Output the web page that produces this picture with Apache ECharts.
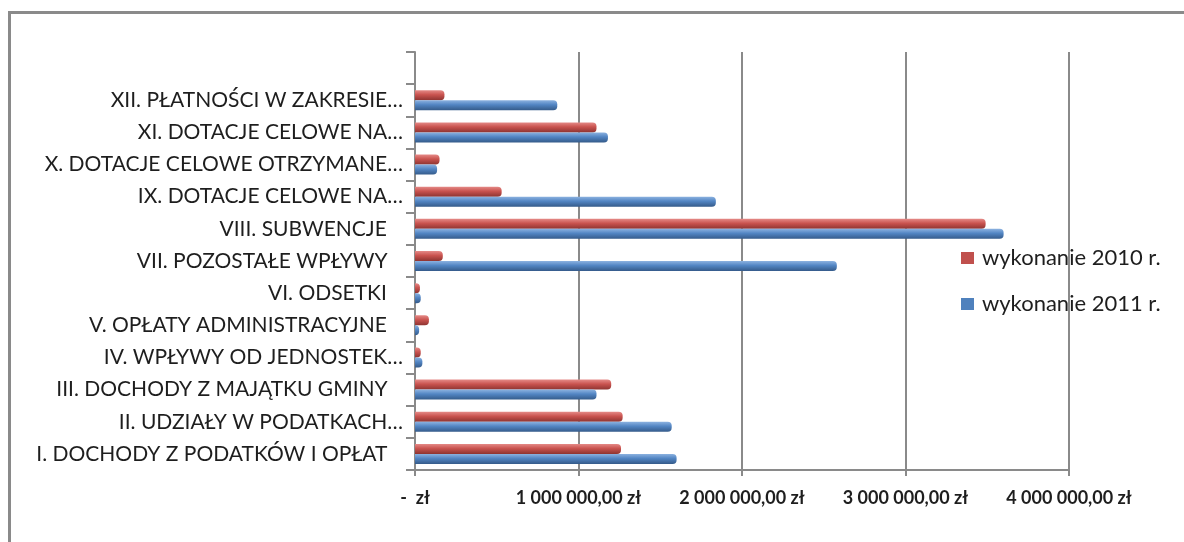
<!DOCTYPE html>
<html>
<head>
<meta charset="utf-8">
<script src="https://cdn.jsdelivr.net/npm/echarts@6/dist/echarts.min.js"></script>
<style>
html,body{margin:0;padding:0;background:#fff;}
#c{width:1184px;height:542px;}
</style>
</head>
<body>
<div id="c"></div>
<script>
// Categories bottom -> top (last one empty slot, as in the original)
var categories = [
  'I. DOCHODY Z PODATKÓW I OPŁAT\u00a0\u00a0\u00a0',
  'II. UDZIAŁY W PODATKACH…',
  'III. DOCHODY Z MAJĄTKU GMINY\u00a0\u00a0\u00a0',
  'IV. WPŁYWY OD JEDNOSTEK…',
  'V. OPŁATY ADMINISTRACYJNE\u00a0\u00a0\u00a0',
  'VI. ODSETKI\u00a0\u00a0\u00a0',
  'VII. POZOSTAŁE WPŁYWY\u00a0\u00a0\u00a0',
  'VIII. SUBWENCJE\u00a0\u00a0\u00a0',
  'IX. DOTACJE CELOWE NA…',
  'X. DOTACJE CELOWE OTRZYMANE…',
  'XI. DOTACJE CELOWE NA…',
  'XII. PŁATNOŚCI W ZAKRESIE…',
  ''
];
var seriesNames = ['wykonanie 2010 r.', 'wykonanie 2011 r.'];
var values2010 = [1260000, 1270000, 1200000, 35000, 85000, 30000, 170000, 3490000, 530000, 150000, 1110000, 180000, null];
var values2011 = [1600000, 1570000, 1110000, 45000, 25000, 35000, 2580000, 3600000, 1840000, 135000, 1180000, 870000, null];
var axisTicks = [0, 1000000, 2000000, 3000000, 4000000];

function fmt(v) {
  if (v === 0) return '-\u00a0\u00a0zł';
  var s = String(Math.round(v));
  var out = '';
  while (s.length > 3) { out = '\u00a0' + s.slice(-3) + out; s = s.slice(0, -3); }
  return s + out + ',00 zł';
}

function grad(top, mid, bot) {
  return new echarts.graphic.LinearGradient(0, 0, 0, 1, [
    {offset: 0, color: top}, {offset: 0.45, color: mid}, {offset: 1, color: bot}
  ]);
}

var chart = echarts.init(document.getElementById('c'), null, {renderer: 'canvas'});
var gray = '#8a8a8a';
chart.setOption({
  animation: false,
  backgroundColor: '#fff',
  graphic: [{
    type: 'rect', left: 7, top: 10, shape: {width: 1300, height: 700},
    style: {fill: 'none', stroke: gray, lineWidth: 3}, silent: true
  }],
  legend: {
    orient: 'vertical', left: 956, top: 242,
    itemWidth: 13, itemHeight: 12, itemGap: 24,
    icon: 'rect',
    data: [
      {name: seriesNames[0], itemStyle: {color: '#c0504d'}},
      {name: seriesNames[1], itemStyle: {color: '#4f81bd'}}
    ],
    textStyle: {fontFamily: 'Lato', fontSize: 22, color: '#1e1e1e', padding: [0,0,0,3]}
  },
  grid: {left: 415, right: 115, top: 52, bottom: 72, containLabel: false},
  xAxis: {
    type: 'value', min: 0, max: 4000000, interval: 1000000,
    axisLine: {show: true, lineStyle: {color: gray, width: 2}},
    axisTick: {show: true, length: 6, lineStyle: {color: gray, width: 2}},
    axisLabel: {
      margin: 19, formatter: fmt,
      fontFamily: 'Lato', fontWeight: 'bold', fontSize: 18, color: '#1e1e1e'
    },
    splitLine: {show: true, lineStyle: {color: gray, width: 2}}
  },
  yAxis: {
    type: 'category', data: categories,
    axisLine: {show: true, lineStyle: {color: gray, width: 2}},
    axisTick: {show: true, length: 9, alignWithLabel: false, lineStyle: {color: gray, width: 2}},
    axisLabel: {margin: 12, fontFamily: 'Lato', fontSize: 21, color: '#1e1e1e'},
    splitLine: {show: false}
  },
  series: [
    {
      name: seriesNames[0], type: 'bar', data: values2010,
      barWidth: 10, barGap: '0%',
      itemStyle: {
        color: grad('#e58a87', '#c9534f', '#8e3431'),
        borderRadius: [0, 4, 4, 0]
      }
    },
    {
      name: seriesNames[1], type: 'bar', data: values2011,
      barWidth: 10, barGap: '0%',
      itemStyle: {
        color: grad('#8cb2e0', '#5285c3', '#355b8a'),
        borderRadius: [0, 4, 4, 0]
      }
    }
  ]
});
</script>
</body>
</html>
